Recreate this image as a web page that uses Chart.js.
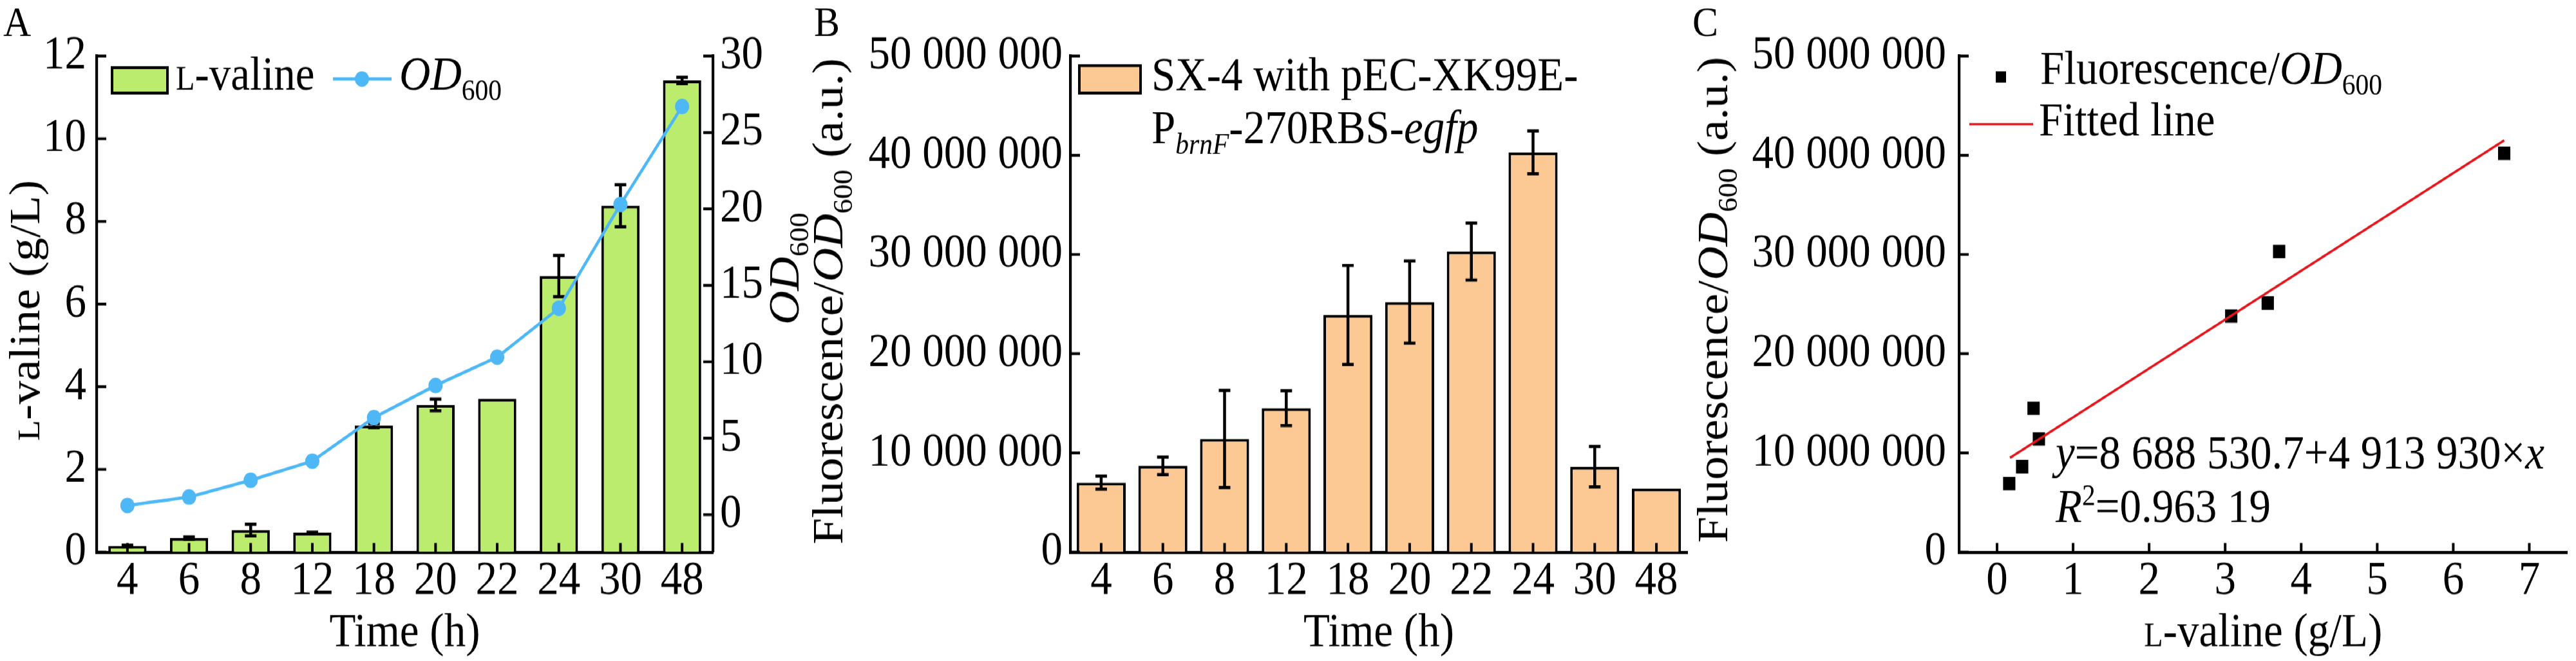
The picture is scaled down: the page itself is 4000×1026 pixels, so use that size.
<!DOCTYPE html>
<html lang="en">
<head>
<meta charset="UTF-8">
<title>L-valine, OD600 and fluorescence</title>
<script src="https://cdn.jsdelivr.net/npm/chart.js"></script>
<style>
    body { margin: 0; background: #fff; }
    #page {
        position: absolute; left: 0; top: 0;
        width: 4000px; height: 937px;
        transform: scaleY(1.095); transform-origin: 0 0;
    }
    #page canvas { position: absolute; left: 0; top: 0; }
</style>
</head>
<body>
<div id="page">
    <canvas id="chartA" width="4000" height="937"></canvas>
    <canvas id="chartB" width="4000" height="937"></canvas>
    <canvas id="chartC" width="4000" height="937"></canvas>
</div>
<script>
    // ---- data ----
    const times = ['4', '6', '8', '12', '18', '20', '22', '24', '30', '48'];

    // panel A
    const valine = [0.15, 0.34, 0.53, 0.47, 3.06, 3.56, 3.71, 6.68, 8.38, 11.41];
    const valineErr = [0.02, 0.03, 0.14, 0.01, 0.05, 0.14, 0, 0.5, 0.51, 0.08];
    const od600 = [0.6, 1.15, 2.25, 3.5, 6.35, 8.45, 10.3, 13.5, 20.3, 26.7];
    const odTicks = [0, 5, 10, 15, 20, 25, 30];

    // panel B
    const fluor = [7.0e6, 8.7e6, 11.4e6, 14.5e6, 23.9e6, 25.2e6, 30.3e6, 40.3e6, 8.6e6, 6.4e6];
    const fluorErr = [0.65e6, 0.88e6, 4.9e6, 1.75e6, 5.0e6, 4.15e6, 2.87e6, 2.15e6, 2.04e6, 0];

    // panel C
    const cValine = [0.16, 0.33, 0.48, 0.55, 3.08, 3.56, 3.71, 6.67];
    const cFluor = [6.9e6, 8.6e6, 14.5e6, 11.4e6, 23.8e6, 25.1e6, 30.3e6, 40.2e6];
    const fitX = [0.17, 6.67];
    const fitY = [9.5e6, 41.5e6];
    const cTicks = [0, 1, 2, 3, 4, 5, 6, 7];

    const FONT = '"Liberation Serif", "Times New Roman", serif';
    const FS = 67;
    const GREEN = '#bcec6e', ORANGE = '#fcc995', BLUE = '#4eb8f6', RED = '#e3161c';

    Chart.defaults.font.family = FONT;
    Chart.defaults.font.size = FS;
    Chart.defaults.color = '#000';

    // ---- rich text helpers (italic, sub/superscript, small caps) ----
    function runFont(r, size) {
        let s = size;
        if (r.sub || r.sup) s = size * 0.62;
        if (r.sc) s = size * 0.72;
        return (r.i ? 'italic ' : '') + s + 'px ' + FONT;
    }
    function runsWidth(ctx, runs, size) {
        let w = 0;
        runs.forEach(r => { ctx.font = runFont(r, size); w += ctx.measureText(r.t).width; });
        return w;
    }
    function drawRuns(ctx, runs, x, y, size, align, rot) {
        ctx.save();
        ctx.translate(x, y);
        if (rot) ctx.rotate(rot);
        ctx.fillStyle = '#000';
        ctx.textBaseline = 'alphabetic';
        ctx.textAlign = 'left';
        let cx = align === 'center' ? -runsWidth(ctx, runs, size) / 2 : 0;
        runs.forEach(r => {
            ctx.font = runFont(r, size);
            const dy = r.sub ? size * 0.22 : (r.sup ? -size * 0.36 : 0);
            ctx.fillText(r.t, cx, dy);
            cx += ctx.measureText(r.t).width;
        });
        ctx.restore();
    }

    const valTitle = [{t: 'L', sc: 1}, {t: '-valine (g/L)'}];
    const odTitle = [{t: 'OD', i: 1}, {t: '600', sub: 1}];
    const fluTitle = [{t: 'Fluorescence/'}, {t: 'OD', i: 1}, {t: '600', sub: 1}, {t: ' (a.u.)'}];
    const timeTitle = [{t: 'Time (h)'}];

    // inward tick marks
    function drawInTicks(chart, ids) {
        const ctx = chart.ctx;
        ctx.save();
        ctx.strokeStyle = '#000';
        ctx.lineWidth = 4;
        ids.forEach(id => {
            const s = chart.scales[id];
            s.ticks.forEach((t, i) => {
                const p = s.getPixelForTick(i);
                ctx.beginPath();
                if (s.isHorizontal()) {
                    ctx.moveTo(p, s.top); ctx.lineTo(p, s.top - 13);
                } else if (s.position === 'left') {
                    ctx.moveTo(s.right, p); ctx.lineTo(s.right + 15, p);
                } else {
                    ctx.moveTo(s.left, p); ctx.lineTo(s.left - 15, p);
                }
                ctx.stroke();
            });
        });
        ctx.restore();
    }

    function drawErrors(chart, dsIndex, yId, values, errs) {
        const ctx = chart.ctx;
        const meta = chart.getDatasetMeta(dsIndex);
        const ys = chart.scales[yId];
        ctx.save();
        ctx.strokeStyle = '#000';
        ctx.lineWidth = 4.5;
        meta.data.forEach((bar, i) => {
            if (!errs[i]) return;
            const yTop = ys.getPixelForValue(values[i] + errs[i]);
            const yBot = ys.getPixelForValue(values[i] - errs[i]);
            ctx.beginPath();
            ctx.moveTo(bar.x, yTop); ctx.lineTo(bar.x, yBot);
            ctx.moveTo(bar.x - 9, yTop); ctx.lineTo(bar.x + 9, yTop);
            ctx.moveTo(bar.x - 9, yBot); ctx.lineTo(bar.x + 9, yBot);
            ctx.stroke();
        });
        ctx.restore();
    }

    function panelLabel(ctx, txt, x) {
        ctx.save();
        ctx.font = '60px ' + FONT;
        ctx.fillStyle = '#000';
        ctx.textBaseline = 'alphabetic';
        ctx.fillText(txt, x, 51);
        ctx.restore();
    }

    const spaced = v => String(v).replace(/\B(?=(\d{3})+(?!\d))/g, ' ');
    const axisBorder = {display: true, color: '#000', width: 4.2};
    const noGrid = {display: false, drawTicks: false};
    const TOP = 79.5, XAXIS_H = 154.4;

    // ---- panel A ----
    new Chart(document.getElementById('chartA'), {
        type: 'bar',
        data: {
            labels: times,
            datasets: [{
                type: 'bar',
                data: valine,
                yAxisID: 'y',
                order: 1,
                backgroundColor: GREEN,
                borderColor: '#000',
                borderWidth: 4,
                categoryPercentage: 1,
                barPercentage: 0.62
            }, {
                type: 'line',
                data: od600,
                yAxisID: 'y1',
                order: 0,
                borderColor: BLUE,
                borderWidth: 4.5,
                pointRadius: 11,
                pointBackgroundColor: BLUE,
                pointBorderWidth: 0,
                tension: 0
            }]
        },
        options: {
            responsive: false,
            animation: false,
            events: [],
            layout: {padding: {left: 0, right: 2738, top: TOP, bottom: 0}},
            plugins: {legend: {display: false}, tooltip: {enabled: false}},
            scales: {
                x: {
                    grid: noGrid, border: axisBorder,
                    ticks: {padding: 2, maxRotation: 0, autoSkip: false},
                    afterFit: s => { s.height = XAXIS_H; }
                },
                y: {
                    position: 'left', min: 0, max: 12,
                    grid: noGrid, border: axisBorder,
                    ticks: {stepSize: 2, padding: 16},
                    afterFit: s => { s.width = 150; }
                },
                y1: {
                    position: 'right', min: -2.45, max: 30,
                    grid: noGrid, border: axisBorder,
                    ticks: {padding: 11},
                    afterBuildTicks: s => { s.ticks = odTicks.map(v => ({value: v})); },
                    afterFit: s => { s.width = 155; }
                }
            }
        },
        plugins: [{
            id: 'decoA',
            afterDatasetDraw(chart, args) {
                if (args.index === 0) drawErrors(chart, 0, 'y', valine, valineErr);
            },
            afterDraw(chart) {
                const ctx = chart.ctx, a = chart.chartArea;
                drawInTicks(chart, ['x', 'y', 'y1']);
                panelLabel(ctx, 'A', 5);
                drawRuns(ctx, timeTitle, (a.left + a.right) / 2, 916, FS, 'center');
                drawRuns(ctx, valTitle, 61, 440, FS, 'center', -Math.PI / 2);
                drawRuns(ctx, odTitle, 1240, 381, FS, 'center', -Math.PI / 2);
                // legend
                ctx.save();
                ctx.fillStyle = GREEN; ctx.strokeStyle = '#000'; ctx.lineWidth = 4;
                ctx.fillRect(174, 96, 86, 36); ctx.strokeRect(174, 96, 86, 36);
                ctx.strokeStyle = BLUE; ctx.lineWidth = 4.5;
                ctx.beginPath(); ctx.moveTo(517, 112); ctx.lineTo(608, 112); ctx.stroke();
                ctx.fillStyle = BLUE;
                ctx.beginPath(); ctx.arc(562, 112, 11, 0, Math.PI * 2); ctx.fill();
                ctx.restore();
                drawRuns(ctx, valTitle.slice(0, 1).concat([{t: '-valine'}]), 273, 127, FS, 'left');
                drawRuns(ctx, odTitle, 620, 127, FS, 'left');
            }
        }]
    });

    // ---- panel B ----
    new Chart(document.getElementById('chartB'), {
        type: 'bar',
        data: {
            labels: times,
            datasets: [{
                data: fluor,
                backgroundColor: ORANGE,
                borderColor: '#000',
                borderWidth: 4,
                categoryPercentage: 1,
                barPercentage: 0.795
            }]
        },
        options: {
            responsive: false,
            animation: false,
            events: [],
            layout: {padding: {left: 1262, right: 1380, top: TOP, bottom: 0}},
            plugins: {legend: {display: false}, tooltip: {enabled: false}},
            scales: {
                x: {
                    grid: noGrid, border: axisBorder,
                    ticks: {padding: 2, maxRotation: 0, autoSkip: false},
                    afterFit: s => { s.height = XAXIS_H; }
                },
                y: {
                    min: 0, max: 50000000,
                    grid: noGrid, border: axisBorder,
                    ticks: {stepSize: 10000000, padding: 12, callback: v => spaced(v)},
                    afterFit: s => { s.width = 400; }
                }
            }
        },
        plugins: [{
            id: 'decoB',
            afterDatasetDraw(chart, args) {
                if (args.index === 0) drawErrors(chart, 0, 'y', fluor, fluorErr);
            },
            afterDraw(chart) {
                const ctx = chart.ctx, a = chart.chartArea;
                drawInTicks(chart, ['x', 'y']);
                panelLabel(ctx, 'B', 1264);
                drawRuns(ctx, timeTitle, (a.left + a.right) / 2, 916, FS, 'center');
                drawRuns(ctx, fluTitle, 1308, 427, FS, 'center', -Math.PI / 2);
                ctx.save();
                ctx.fillStyle = ORANGE; ctx.strokeStyle = '#000'; ctx.lineWidth = 4;
                ctx.fillRect(1676, 93, 95, 39); ctx.strokeRect(1676, 93, 95, 39);
                ctx.restore();
                drawRuns(ctx, [{t: 'SX-4 with pEC-XK99E-'}], 1788, 128, FS, 'left');
                drawRuns(ctx, [{t: 'P'}, {t: 'brnF', i: 1, sub: 1}, {t: '-270RBS-'}, {t: 'egfp', i: 1}],
                    1788, 203, FS, 'left');
            }
        }]
    });

    // ---- panel C ----
    new Chart(document.getElementById('chartC'), {
        type: 'scatter',
        data: {
            datasets: [{
                type: 'line',
                data: fitX.map((x, i) => ({x: x, y: fitY[i]})),
                order: 0,
                borderColor: RED,
                borderWidth: 3.5,
                pointRadius: 0,
                fill: false
            }, {
                data: cValine.map((x, i) => ({x: x, y: cFluor[i]})),
                order: 1,
                pointStyle: 'rect',
                pointRadius: 13.5,
                backgroundColor: '#000',
                borderWidth: 0
            }]
        },
        options: {
            responsive: false,
            animation: false,
            events: [],
            layout: {padding: {left: 2640, right: 0, top: TOP, bottom: 0}},
            plugins: {legend: {display: false}, tooltip: {enabled: false}},
            scales: {
                x: {
                    type: 'linear', min: -0.5, max: 7.5,
                    grid: noGrid, border: axisBorder,
                    ticks: {padding: 2, maxRotation: 0},
                    afterBuildTicks: s => { s.ticks = cTicks.map(v => ({value: v})); },
                    afterFit: s => { s.height = XAXIS_H; }
                },
                y: {
                    min: 0, max: 50000000,
                    grid: noGrid, border: axisBorder,
                    ticks: {stepSize: 10000000, padding: 20, callback: v => spaced(v)},
                    afterFit: s => { s.width = 402; }
                }
            }
        },
        plugins: [{
            id: 'decoC',
            afterDraw(chart) {
                const ctx = chart.ctx, a = chart.chartArea;
                drawInTicks(chart, ['x', 'y']);
                panelLabel(ctx, 'C', 2628);
                drawRuns(ctx, valTitle, (a.left + a.right) / 2, 916, FS, 'center');
                drawRuns(ctx, fluTitle, 2682, 425, FS, 'center', -Math.PI / 2);
                // legend
                ctx.save();
                ctx.fillStyle = '#000';
                ctx.fillRect(3099, 101, 16, 16);
                ctx.strokeStyle = RED; ctx.lineWidth = 3.5;
                ctx.beginPath(); ctx.moveTo(3058, 176); ctx.lineTo(3157, 176); ctx.stroke();
                ctx.restore();
                drawRuns(ctx, [{t: 'Fluorescence/'}, {t: 'OD', i: 1}, {t: '600', sub: 1}], 3168, 119, FS, 'left');
                drawRuns(ctx, [{t: 'Fitted line'}], 3166, 192, FS, 'left');
                // fit annotation
                drawRuns(ctx, [{t: 'y', i: 1}, {t: '=8 688 530.7+4 913 930×'}, {t: 'x', i: 1}], 3192, 664, FS, 'left');
                drawRuns(ctx, [{t: 'R', i: 1}, {t: '2', sup: 1}, {t: '=0.963 19'}], 3192, 740, FS, 'left');
            }
        }]
    });
</script>
</body>
</html>
